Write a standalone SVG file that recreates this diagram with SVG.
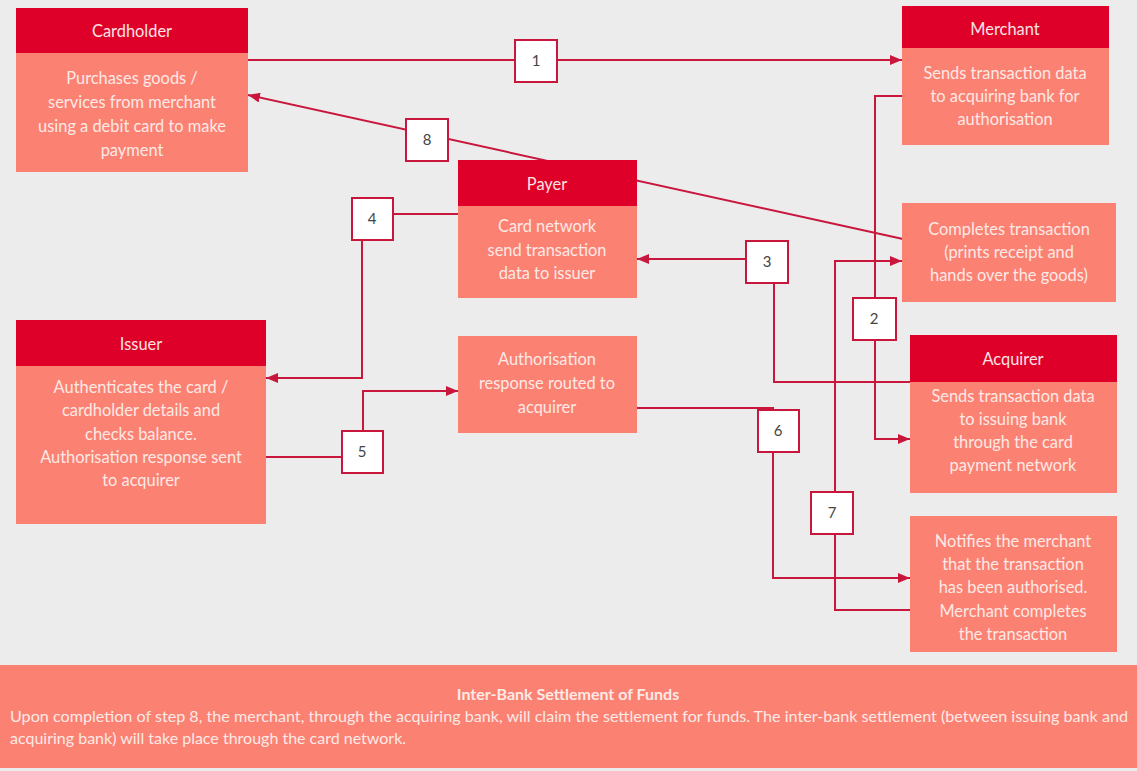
<svg xmlns="http://www.w3.org/2000/svg" width="1137" height="771" viewBox="0 0 1137 771">
  <defs>
    <marker id="arrow" viewBox="0 0 12 10" refX="12" refY="5" markerWidth="12" markerHeight="10" markerUnits="userSpaceOnUse" orient="auto">
      <path d="M0,0 L12,5 L0,10 z" fill="#c8163c"/>
    </marker>
    <style>
      .bg { fill: #ececec; }
      .head { fill: #de0029; }
      .body { fill: #fb8173; }
      .title { font-family: Lato, "Liberation Sans", sans-serif; font-size: 16.4px; fill: #fbe3e3; text-anchor: middle; }
      .txt { font-family: Lato, "Liberation Sans", sans-serif; font-size: 16.4px; fill: #fde9e5; text-anchor: middle; }
      .conn { fill: none; stroke: #c8163c; stroke-width: 2; }
      .tag rect { fill: #ffffff; stroke: #c8163c; stroke-width: 2; }
      .tag text { font-family: Lato, "Liberation Sans", sans-serif; font-size: 15px; fill: #444444; text-anchor: middle; }
      .note { font-family: Lato, "Liberation Sans", sans-serif; font-size: 16px; fill: #fdeae6; }
    </style>
  </defs>

  <rect class="bg" x="0" y="0" width="1137" height="771"/>

  <!-- connectors (drawn under the boxes) -->
  <g id="connectors">
    <path id="c1" class="conn" d="M248,60 H902" marker-end="url(#arrow)"/>
    <path id="c2" class="conn" d="M902,96 H875 V439 H910" marker-end="url(#arrow)"/>
    <path id="c3" class="conn" d="M910,382 H774 V259 H637" marker-end="url(#arrow)"/>
    <path id="c4" class="conn" d="M458,214 H362 V378 H266" marker-end="url(#arrow)"/>
    <path id="c5" class="conn" d="M266,457 H363 V391 H458" marker-end="url(#arrow)"/>
    <path id="c6" class="conn" d="M637,408 H773 V578 H910" marker-end="url(#arrow)"/>
    <path id="c7" class="conn" d="M910,610 H835 V261 H902" marker-end="url(#arrow)"/>
    <path id="c8" class="conn" d="M903,239 L248,95" marker-end="url(#arrow)"/>
  </g>

  <g id="cardholder">
    <rect class="body" x="16" y="53" width="232" height="119"/>
    <rect class="head" x="16" y="8" width="232" height="45"/>
    <text class="title" x="132" y="37">Cardholder</text>
    <text class="txt" x="132" y="84">Purchases goods /</text>
    <text class="txt" x="132" y="108">services from merchant</text>
    <text class="txt" x="132" y="132">using a debit card to make</text>
    <text class="txt" x="132" y="156">payment</text>
  </g>

  <g id="merchant">
    <rect class="body" x="902" y="48" width="207" height="97"/>
    <rect class="head" x="902" y="6" width="207" height="42"/>
    <text class="title" x="1005" y="35">Merchant</text>
    <text class="txt" x="1005" y="79">Sends transaction data</text>
    <text class="txt" x="1005" y="102">to acquiring bank for</text>
    <text class="txt" x="1005" y="125">authorisation</text>
  </g>

  <g id="completes">
    <rect class="body" x="902" y="203" width="214" height="99"/>
    <text class="txt" x="1009" y="235">Completes transaction</text>
    <text class="txt" x="1009" y="258">(prints receipt and</text>
    <text class="txt" x="1009" y="281">hands over the goods)</text>
  </g>

  <g id="payer">
    <rect class="body" x="458" y="206" width="179" height="92"/>
    <rect class="head" x="458" y="160" width="179" height="46"/>
    <text class="title" x="547" y="190">Payer</text>
    <text class="txt" x="547" y="232">Card network</text>
    <text class="txt" x="547" y="256">send transaction</text>
    <text class="txt" x="547" y="279">data to issuer</text>
  </g>

  <g id="auth-response">
    <rect class="body" x="458" y="336" width="179" height="97"/>
    <text class="txt" x="547" y="365">Authorisation</text>
    <text class="txt" x="547" y="389">response routed to</text>
    <text class="txt" x="547" y="413">acquirer</text>
  </g>

  <g id="issuer">
    <rect class="body" x="16" y="366" width="250" height="158"/>
    <rect class="head" x="16" y="320" width="250" height="46"/>
    <text class="title" x="141" y="350">Issuer</text>
    <text class="txt" x="141" y="393">Authenticates the card /</text>
    <text class="txt" x="141" y="416">cardholder details and</text>
    <text class="txt" x="141" y="440">checks balance.</text>
    <text class="txt" x="141" y="463">Authorisation response sent</text>
    <text class="txt" x="141" y="486">to acquirer</text>
  </g>

  <g id="acquirer">
    <rect class="body" x="910" y="382" width="207" height="111"/>
    <rect class="head" x="910" y="335" width="207" height="47"/>
    <text class="title" x="1013" y="365">Acquirer</text>
    <text class="txt" x="1013" y="402">Sends transaction data</text>
    <text class="txt" x="1013" y="425">to issuing bank</text>
    <text class="txt" x="1013" y="448">through the card</text>
    <text class="txt" x="1013" y="471">payment network</text>
  </g>

  <g id="notifies">
    <rect class="body" x="910" y="516" width="207" height="136"/>
    <text class="txt" x="1013" y="547">Notifies the merchant</text>
    <text class="txt" x="1013" y="570">that the transaction</text>
    <text class="txt" x="1013" y="593">has been authorised.</text>
    <text class="txt" x="1013" y="617">Merchant completes</text>
    <text class="txt" x="1013" y="640">the transaction</text>
  </g>

  <!-- numbered step tags on the connectors -->
  <g id="step-tags">
    <g class="tag"><rect x="515" y="40" width="42" height="42"/><text x="536" y="66">1</text></g>
    <g class="tag"><rect x="853" y="298" width="43" height="42"/><text x="874" y="324">2</text></g>
    <g class="tag"><rect x="746" y="241" width="42" height="42"/><text x="767" y="267">3</text></g>
    <g class="tag"><rect x="352" y="198" width="41" height="42"/><text x="372" y="224">4</text></g>
    <g class="tag"><rect x="342" y="431" width="41" height="42"/><text x="362" y="457">5</text></g>
    <g class="tag"><rect x="758" y="410" width="41" height="42"/><text x="778" y="436">6</text></g>
    <g class="tag"><rect x="811" y="492" width="42" height="42"/><text x="832" y="518">7</text></g>
    <g class="tag"><rect x="406" y="119" width="42" height="42"/><text x="427" y="145">8</text></g>
  </g>

  <g id="settlement">
    <rect class="body" x="0" y="665" width="1137" height="103"/>
    <text class="note" x="568" y="700" text-anchor="middle" font-weight="bold">Inter-Bank Settlement of Funds</text>
    <text class="note" x="10" y="722" textLength="1118" lengthAdjust="spacingAndGlyphs">Upon completion of step 8, the merchant, through the acquiring bank, will claim the settlement for funds. The inter-bank settlement (between issuing bank and</text>
    <text class="note" x="10" y="744">acquiring bank) will take place through the card network.</text>
  </g>
</svg>
